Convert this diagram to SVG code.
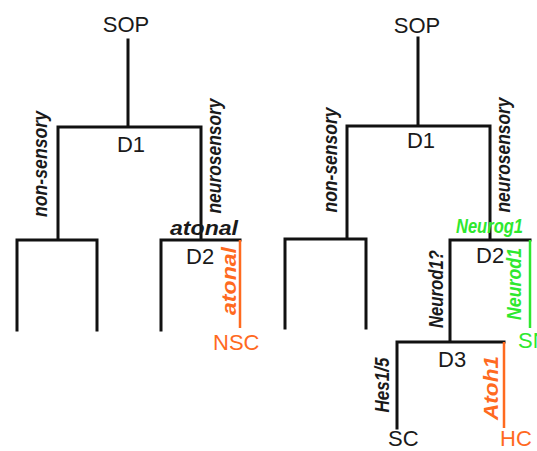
<svg xmlns="http://www.w3.org/2000/svg" width="537" height="451" viewBox="0 0 537 451">
<style>
.t{font-family:"Liberation Sans",Arial,sans-serif;font-size:22px;fill:#1a1a1a}
.l{font-family:"Liberation Sans",Arial,sans-serif;font-size:20px;font-style:italic;font-weight:bold;fill:#1a1a1a}
.o{fill:#ff6a1f}
.g{fill:#2ee82e}
.k{stroke:#111;stroke-width:3;fill:none;stroke-linecap:square}
.ko{stroke:#ff6a1f;stroke-width:2.5;fill:none}
.kg{stroke:#2ee82e;stroke-width:2.5;fill:none}
</style>
<rect width="537" height="451" fill="#fff"/>
<g id="connectors">
<path class="k" d="M128 40V127M58 127H201M58 127V240M201 127V240M17 240H97M17 240V330M97 240V330M161 240H240M161 240V330"/>
<path class="ko" d="M240 240V328"/>
<path class="k" d="M418 38V126M347 126H490M347 126V239M490 126V240M285 239H366M285 239V328M366 239V328M450 240H530M450 240V342M397 342H504M397 342V428"/>
<path class="kg" d="M530 240V328"/>
<path class="ko" d="M504 342V428"/>
</g>
<g id="sop-left"><text class="t" x="126" y="32" text-anchor="middle">SOP</text></g>
<g id="d1-left"><text class="t" x="131" y="152" text-anchor="middle">D1</text></g>
<g id="nonsensory-left"><text class="l" transform="translate(47 164) rotate(-90)" text-anchor="middle" textLength="106" lengthAdjust="spacingAndGlyphs">non-sensory</text></g>
<g id="neurosensory-left"><text class="l" transform="translate(221 156) rotate(-90)" text-anchor="middle" textLength="115" lengthAdjust="spacingAndGlyphs">neurosensory</text></g>
<g id="d2-left">
<text class="l" x="170" y="235" font-size="22" textLength="68" lengthAdjust="spacingAndGlyphs">atonal</text>
<text class="t" x="186" y="264">D2</text>
<text class="l o" transform="translate(236 281) rotate(-90)" text-anchor="middle" font-size="21" textLength="68" lengthAdjust="spacingAndGlyphs">atonal</text>
</g>
<g id="nsc"><text class="t o" x="213" y="350">NSC</text></g>
<g id="sop-right"><text class="t" x="417" y="33" text-anchor="middle">SOP</text></g>
<g id="d1-right"><text class="t" x="421" y="148" text-anchor="middle">D1</text></g>
<g id="nonsensory-right"><text class="l" transform="translate(337 160) rotate(-90)" text-anchor="middle" textLength="105" lengthAdjust="spacingAndGlyphs">non-sensory</text></g>
<g id="neurosensory-right"><text class="l" transform="translate(510 155) rotate(-90)" text-anchor="middle" textLength="115" lengthAdjust="spacingAndGlyphs">neurosensory</text></g>
<g id="d2-right">
<text class="l g" x="456" y="233" textLength="67" lengthAdjust="spacingAndGlyphs">Neurog1</text>
<text class="t" x="476" y="263">D2</text>
<text class="l g" transform="translate(521 284) rotate(-90)" text-anchor="middle" textLength="72" lengthAdjust="spacingAndGlyphs">Neurod1</text>
<text class="l" transform="translate(443 289) rotate(-90)" text-anchor="middle" textLength="78" lengthAdjust="spacingAndGlyphs">Neurod1?</text>
</g>
<g id="sn"><text class="t g" x="518" y="348">SN</text></g>
<g id="d3">
<text class="t" x="438" y="367">D3</text>
<text class="l" transform="translate(389 385) rotate(-90)" text-anchor="middle" textLength="55" lengthAdjust="spacingAndGlyphs">Hes1/5</text>
<text class="l o" transform="translate(498 388) rotate(-90)" text-anchor="middle" font-size="23" textLength="64" lengthAdjust="spacingAndGlyphs">Atoh1</text>
</g>
<g id="sc"><text class="t" x="388" y="446" font-size="21">SC</text></g>
<g id="hc"><text class="t o" x="500" y="446" font-size="21">HC</text></g>
</svg>
